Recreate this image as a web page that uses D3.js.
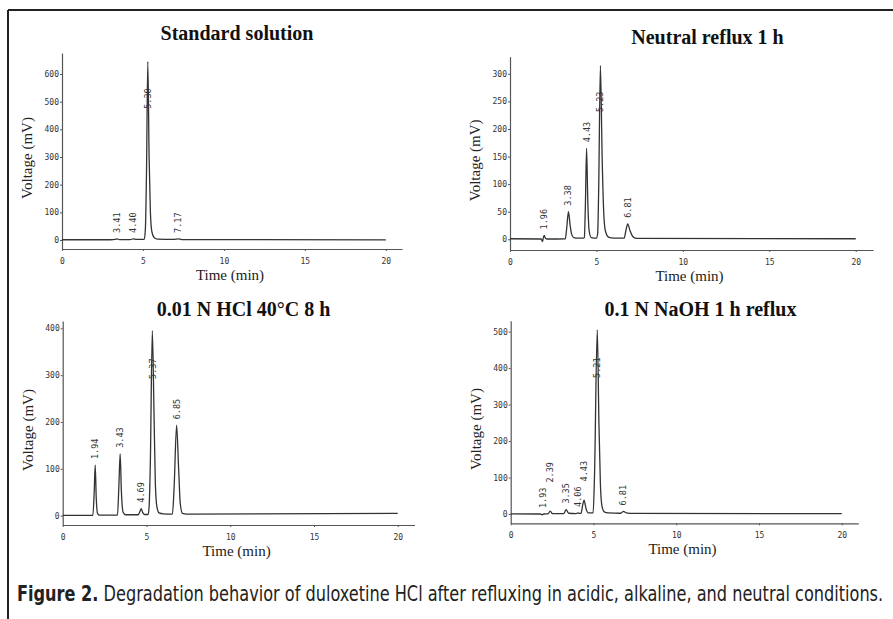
<!DOCTYPE html>
<html>
<head>
<meta charset="utf-8">
<script src="https://d3js.org/d3.v7.min.js"></script>
<style>
    body { margin: 0; background: #fff; }
    svg { display: block; }
    .tick text { font-family: "DejaVu Sans Mono", monospace; font-size: 8px; fill: #333; }
    .tick line, .domain { stroke: #555; }
</style>
</head>
<body>
<div id="chart"></div>
<script>
// chromatogram traces, [time (min), voltage (mV)]
var traceStandard = [[0, 1], [3.0, 1], [3.3, 2], [3.41, 4], [3.55, 1.5], [4.2, 1.5], [4.4, 4], [4.6, 2],
    [5.08, 2], [5.15, 40], [5.22, 250], [5.3, 645], [5.38, 300], [5.46, 100], [5.55, 30], [5.7, 8],
    [5.9, 3], [6.9, 2], [7.17, 4], [7.4, 1.5], [20, 0.5]];
var traceNeutral = [[0, 1], [1.8, 0.5], [1.88, -4], [1.93, 3], [1.98, 7], [2.05, 2], [2.15, 0.5],
    [3.2, 1], [3.28, 20], [3.38, 50], [3.48, 25], [3.58, 8], [3.7, 3], [3.9, 2], [4.25, 2],
    [4.3, 3], [4.36, 60], [4.43, 165], [4.5, 70], [4.58, 15], [4.7, 3], [5.0, 2],
    [5.07, 10], [5.13, 90], [5.23, 315], [5.33, 150], [5.42, 50], [5.52, 15], [5.7, 4], [6.0, 2], [6.6, 2],
    [6.7, 15], [6.81, 28], [6.95, 15], [7.1, 5], [7.3, 1.5], [20, 1]];
var traceAcid = [[0, 0.5], [1.8, 0.5], [1.88, 50], [1.94, 108], [2.0, 40], [2.08, 5], [2.2, 1],
    [3.27, 1], [3.35, 60], [3.43, 132], [3.5, 55], [3.6, 8], [3.75, 2],
    [4.5, 2], [4.6, 8], [4.69, 15], [4.77, 7], [4.88, 2.5], [5.1, 2.5],
    [5.16, 20], [5.23, 110], [5.35, 395], [5.45, 220], [5.53, 70], [5.62, 20], [5.75, 6], [6.0, 4], [6.55, 3.5],
    [6.65, 60], [6.8, 193], [6.92, 100], [7.02, 25], [7.15, 5], [7.4, 3.5], [20, 5]];
var traceBase = [[0, 0.5], [1.8, 0], [1.9, -2], [2.0, 0], [2.25, 0.5], [2.39, 8], [2.52, 1],
    [3.2, 1], [3.35, 12], [3.5, 2], [3.95, 1], [4.06, 3], [4.15, 1.5],
    [4.25, 2], [4.35, 25], [4.43, 38], [4.55, 15], [4.68, 3], [4.98, 3],
    [5.06, 100], [5.23, 505], [5.33, 250], [5.42, 80], [5.52, 20], [5.65, 6], [5.9, 3], [6.6, 2],
    [6.65, 2], [6.81, 7], [7.0, 3], [7.3, 1.5], [20, 1]];

// retention time labels
var peaksStandard = ["3.41", "4.40", "5.30", "7.17"];
var peaksNeutral = ["1.96", "3.38", "4.43", "5.23", "6.81"];
var peaksAcid = ["1.94", "3.43", "4.69", "5.37", "6.85"];
var peaksBase = ["1.93", "2.39", "3.35", "4.06", "4.43", "5.21", "6.81"];

var titles = ["Standard solution", "Neutral reflux 1 h", "0.01 N HCl 40°C 8 h", "0.1 N NaOH 1 h reflux"];
var xTicks = [0, 5, 10, 15, 20];
var yTicksStandard = [0, 100, 200, 300, 400, 500, 600];
var yTicksNeutral = [0, 50, 100, 150, 200, 250, 300];
var yTicksAcid = [0, 100, 200, 300, 400];
var yTicksBase = [0, 100, 200, 300, 400, 500];
var yRanges = [[-32.5, 676], [-19.4, 331], [-19.9, 415.6], [-25.5, 530]];
var xRange = [0, 21];

var caption = ["Figure 2.", " Degradation behavior of duloxetine HCl after refluxing in acidic, alkaline, and neutral conditions."];

var width = 893, height = 619;

// panel boxes: left/right of x axis, top of y axis, x axis line
var panels = [
    { trace: traceStandard, peaks: peaksStandard, yTicks: yTicksStandard, x0: 62, x1: 402, top: 53, bottom: 249, title: 0 },
    { trace: traceNeutral, peaks: peaksNeutral, yTicks: yTicksNeutral, x0: 510, x1: 873, top: 56.7, bottom: 250, title: 1 },
    { trace: traceAcid, peaks: peaksAcid, yTicks: yTicksAcid, x0: 62.7, x1: 414.5, top: 321, bottom: 525, title: 2 },
    { trace: traceBase, peaks: peaksBase, yTicks: yTicksBase, x0: 510.7, x1: 858.3, top: 320.7, bottom: 523.3, title: 3 }
];

var svg = d3.select("#chart").append("svg")
    .attr("width", width)
    .attr("height", height);

// frame: top and left edges only
svg.append("line").attr("x1", 8).attr("y1", 10).attr("x2", width).attr("y2", 10)
    .attr("stroke", "#222").attr("stroke-width", 2);
svg.append("line").attr("x1", 8).attr("y1", 10).attr("x2", 8).attr("y2", height)
    .attr("stroke", "#222").attr("stroke-width", 2);

panels.forEach(function (p, i) {
    var xs = d3.scaleLinear().domain(xRange).range([p.x0, p.x1]);
    var ys = d3.scaleLinear().domain(yRanges[i]).range([p.bottom, p.top]);
    var g = svg.append("g");

    // y axis
    g.append("g")
        .attr("transform", "translate(" + p.x0 + ",0)")
        .call(d3.axisLeft(ys).tickValues(p.yTicks).tickSize(2).tickSizeOuter(0).tickPadding(1));
    // x axis
    g.append("g")
        .attr("transform", "translate(0," + p.bottom + ")")
        .call(d3.axisBottom(xs).tickValues(xTicks).tickSize(2).tickSizeOuter(0).tickPadding(7));
    g.selectAll(".domain").attr("stroke-width", 1.2);

    // trace
    var line = d3.line()
        .x(function (d) { return xs(d[0]); })
        .y(function (d) { return ys(d[1]); })
        .curve(d3.curveMonotoneX);
    g.append("path")
        .attr("d", line(p.trace))
        .attr("fill", "none")
        .attr("stroke", "#333")
        .attr("stroke-width", 1.3);

    // peak labels
    var tallest = d3.max(p.trace, function (d) { return d[1]; });
    var labLen = 20.5, prevX = -100, prevTop = 1e9;
    p.peaks.forEach(function (lab) {
        var t = +lab;
        var near = p.trace.filter(function (d) { return Math.abs(d[0] - t) < 0.15; });
        var apex = d3.max(near, function (d) { return d[1]; });
        var x = xs(t);
        var bottom;
        if (apex === tallest) {
            bottom = ys(apex * 0.85) + labLen;
        } else {
            bottom = ys(Math.max(apex, 0)) - 6;
            if (x - prevX < 9 && bottom > prevTop - 5) bottom = prevTop - 5;
        }
        g.append("text")
            .attr("transform", "translate(" + x + "," + bottom + ") rotate(-90)")
            .attr("dy", "0.35em")
            .style("font-family", "DejaVu Sans Mono, monospace")
            .style("font-size", "8.5px")
            .style("fill", "#333")
            .text(lab);
        prevX = x;
        prevTop = bottom - labLen;
    });

    // titles
    var cx = (p.x0 + p.x1) / 2;
    g.append("text")
        .attr("x", cx + (i % 2 ? 16 : 5))
        .attr("y", p.top - (i < 2 ? 13 : 5))
        .attr("text-anchor", "middle")
        .style("font-family", "Liberation Serif, serif")
        .style("font-weight", "bold")
        .style("font-size", "20px")
        .style("fill", "#111")
        .text(titles[p.title]);
    g.append("text")
        .attr("x", cx - 2)
        .attr("y", p.bottom + 31)
        .attr("text-anchor", "middle")
        .style("font-family", "Liberation Serif, serif")
        .style("font-size", "15px")
        .style("fill", "#222")
        .text("Time (min)");
    g.append("text")
        .attr("transform", "translate(" + (p.x0 - 35) + "," + ((p.top + p.bottom) / 2 + 7) + ") rotate(-90)")
        .attr("dy", "0.35em")
        .attr("text-anchor", "middle")
        .style("font-family", "Liberation Serif, serif")
        .style("font-size", "15px")
        .style("fill", "#222")
        .text("Voltage (mV)");
});

// caption, squeezed to the reference width
var cap = svg.append("text")
    .attr("x", 0)
    .attr("y", 0)
    .style("font-family", "Liberation Sans Narrow, DejaVu Sans Condensed, sans-serif")
    .style("font-size", "21px")
    .style("fill", "#222");
cap.append("tspan").style("font-weight", "bold").text(caption[0]);
cap.append("tspan").text(caption[1]);
var capW = cap.node().getComputedTextLength();
cap.attr("transform", "translate(17,601) scale(" + (867 / capW) + ",1)");
</script>
</body>
</html>
